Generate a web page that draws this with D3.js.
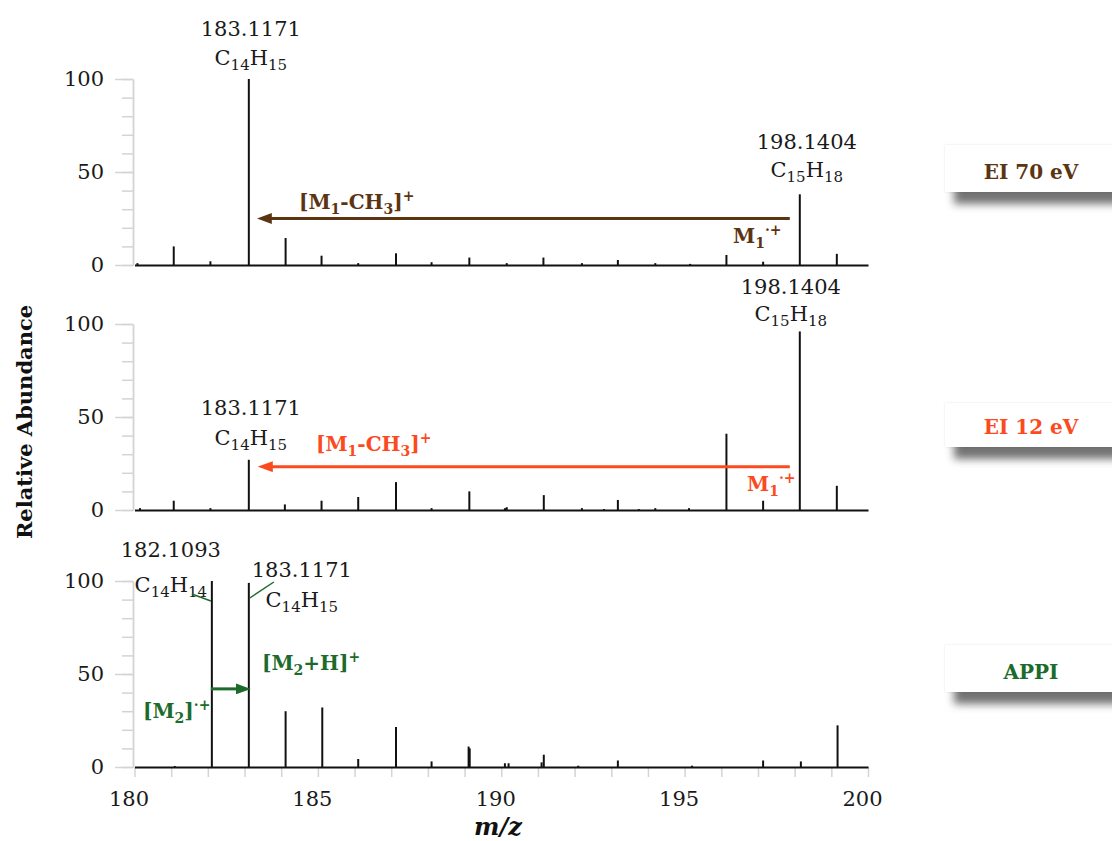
<!DOCTYPE html>
<html><head><meta charset="utf-8">
<script src="https://cdn.jsdelivr.net/npm/d3@7"></script>
<style>
body{margin:0;background:#fff;}
svg{display:block;}
</style></head><body>
<svg id="chart" width="1112" height="841"></svg>
<script>
// ---- axis definitions ----
const mzDomain = [180, 200];
const mzTicks = d3.range(180, 201);
const mzLabelTicks = [180, 185, 190, 195, 200];
const abundanceMinorTicks = d3.range(0, 101, 10);
const abundanceLabelTicks = [0, 50, 100];

// ---- spectra (m/z, relative abundance %) ----
const ei70Mz = [180.08, 181.07, 182.07, 183.1171, 184.12, 185.10, 186.10, 187.13, 188.10, 189.13,
                190.15, 191.15, 192.20, 193.18, 194.20, 195.15, 196.14, 197.14, 198.1404, 199.15];
const ei70Abundance = [1, 10, 2, 100, 14.5, 5, 1, 6.3, 1.5, 4,
                       1, 4, 1, 2.7, 1, 0.6, 5.4, 1.8, 38, 6];

const ei12Mz = [180.15, 181.07, 182.07, 183.1171, 184.10, 185.10, 186.10, 187.13, 188.10, 189.13,
                190.10, 190.15, 191.16, 192.20, 192.80, 193.18, 193.75, 194.20, 195.12, 196.14,
                197.14, 198.1404, 199.15];
const ei12Abundance = [1, 5, 1, 27, 3, 5, 7, 15, 1, 10,
                       1, 1.5, 8, 1, 0.5, 5.4, 0.5, 1, 1, 41,
                       5, 96, 13];

const appiMz = [181.10, 182.1093, 183.1171, 184.12, 185.12, 186.10, 187.13, 188.10, 189.11, 189.14,
                190.10, 190.20, 191.10, 191.16, 192.10, 193.18, 195.20, 197.14, 198.17, 199.17];
const appiAbundance = [0.5, 100, 99, 30, 32, 4.3, 21.5, 3, 11, 10,
                       2, 2, 2.5, 6.6, 0.7, 3.5, 0.7, 3.5, 3, 22.4];

const methodNames = ["EI 70 eV", "EI 12 eV", "APPI"];
const methodColors = ["#5b3412", "#fb4b1e", "#1c6b2c"];

// ---- layout ----
const svg = d3.select("#chart");
const serif = "'DejaVu Serif', serif";
const x = d3.scaleLinear().domain(mzDomain).range([134.5, 868]);
const panelBands = [[79, 265], [324, 510], [581, 767]];
const spectra = [
  d3.zip(ei70Mz, ei70Abundance),
  d3.zip(ei12Mz, ei12Abundance),
  d3.zip(appiMz, appiAbundance)
];
const ys = panelBands.map(([t, b]) => d3.scaleLinear().domain([0, 100]).range([b, t]));

const defs = svg.append("defs");
defs.append("filter").attr("id", "boxShadow")
  .attr("x", "-20%").attr("y", "-60%").attr("width", "140%").attr("height", "220%")
  .append("feGaussianBlur").attr("stdDeviation", 4.5);
const glow = defs.append("filter").attr("id", "boxGlow")
  .attr("x", "-10%").attr("y", "-20%").attr("width", "120%").attr("height", "140%");
glow.append("feDropShadow").attr("dx", 0).attr("dy", 0).attr("stdDeviation", 1.2)
  .attr("flood-color", "#000").attr("flood-opacity", 0.1);

methodColors.forEach((c, i) => {
  defs.append("marker").attr("id", "head" + i)
    .attr("viewBox", "0 0 15 11").attr("refX", 15).attr("refY", 5.5)
    .attr("markerWidth", 15).attr("markerHeight", 11)
    .attr("markerUnits", "userSpaceOnUse").attr("orient", "auto")
    .append("path").attr("d", "M0,0 L15,5.5 L0,11 Z").attr("fill", c);
});

// draws a text run with subscripts / superscripts: parts = [[text, kind]], kind 0 normal, 1 sub, 2 sup
function richText(g, px, py, parts, opts) {
  const o = Object.assign({size: 21, subSize: 15, subShift: 5, supShift: 9, weight: "normal",
                           fill: "#1a1a1a", anchor: "middle"}, opts || {});
  const t = g.append("text").attr("x", px).attr("y", py)
    .attr("font-family", serif).attr("font-size", o.size).attr("font-weight", o.weight)
    .attr("fill", o.fill).attr("text-anchor", o.anchor);
  let shift = 0;
  parts.forEach(([s, kind]) => {
    const target = kind === 1 ? o.subShift : kind === 2 ? -o.supShift : 0;
    t.append("tspan").attr("dy", target - shift)
      .attr("font-size", kind ? o.subSize : o.size).text(s);
    shift = target;
  });
  return t;
}

spectra.forEach((peaks, i) => {
  const y = ys[i];
  const g = svg.append("g");

  // abundance axis: minor ticks, then labelled major ticks
  const minor = g.append("g").attr("transform", "translate(133,0)")
    .call(d3.axisLeft(y).tickValues(abundanceMinorTicks).tickSize(11).tickSizeOuter(0).tickFormat(""));
  const major = g.append("g").attr("transform", "translate(133,0)")
    .call(d3.axisLeft(y).tickValues(abundanceLabelTicks).tickSize(18).tickSizeOuter(0).tickPadding(11));
  [minor, major].forEach(a => {
    a.selectAll("path.domain").attr("stroke", "#d4d4d4").attr("stroke-width", 1.5);
    a.selectAll(".tick line").attr("stroke", "#d4d4d4").attr("stroke-width", 1.5);
  });
  major.selectAll(".tick text").attr("font-family", serif).attr("font-size", 21).attr("fill", "#1a1a1a");

  // m/z baseline (ticks and labels only on the lowest panel)
  const xa = g.append("g").attr("transform", `translate(0,${y(0)})`);
  if (i === 2) {
    xa.call(d3.axisBottom(x).tickValues(mzTicks).tickSize(10).tickSizeOuter(0).tickPadding(14)
      .tickFormat(d => mzLabelTicks.includes(d) ? d : ""));
    xa.selectAll(".tick line").attr("stroke", "#d4d4d4").attr("stroke-width", 1.5);
    xa.selectAll(".tick text").attr("font-family", serif).attr("font-size", 21)
      .attr("fill", "#1a1a1a").attr("x", -6);
  } else {
    xa.call(d3.axisBottom(x).tickValues([]).tickSizeOuter(0));
  }
  xa.select("path.domain").attr("stroke", "#111").attr("stroke-width", 2.2).raise();

  // spectrum sticks
  g.append("g").selectAll("line").data(peaks).join("line")
    .attr("x1", d => x(d[0])).attr("x2", d => x(d[0]))
    .attr("y1", y(0)).attr("y2", d => y(d[1]))
    .attr("stroke", "#111").attr("stroke-width", 2);

  // method tag on the right
  const boxTop = [145, 403, 645][i], boxH = [47, 44, 47][i];
  g.append("rect").attr("x", 954).attr("y", boxTop + 12).attr("width", 200).attr("height", boxH)
    .attr("fill", "#5a5a5a").attr("opacity", 0.85).attr("filter", "url(#boxShadow)");
  g.append("rect").attr("x", 945).attr("y", boxTop).attr("width", 200).attr("height", boxH)
    .attr("fill", "#fff").attr("filter", "url(#boxGlow)");
  g.append("text").attr("x", 1031).attr("y", boxTop + boxH - 13)
    .attr("text-anchor", "middle").attr("font-family", serif).attr("font-weight", "bold")
    .attr("font-size", 20).attr("fill", methodColors[i]).text(methodNames[i]);
});

// ---- peak annotations ----
const ann = svg.append("g");
const peakTop = (i, mz) => ys[i](spectra[i].find(p => p[0] === mz)[1]);

// EI 70 eV
richText(ann, x(183.1171) + 2, ys[0](100) - 43, [["183.1171", 0]]);
richText(ann, x(183.1171) + 2, ys[0](100) - 14, [["C", 0], ["14", 1], ["H", 0], ["15", 1]]);
richText(ann, x(198.1404) + 7, peakTop(0, 198.1404) - 45, [["198.1404", 0]]);
richText(ann, x(198.1404) + 7, peakTop(0, 198.1404) - 17, [["C", 0], ["15", 1], ["H", 0], ["18", 1]]);
// EI 12 eV
richText(ann, x(183.1171) + 2, peakTop(1, 183.1171) - 45, [["183.1171", 0]]);
richText(ann, x(183.1171) + 2, peakTop(1, 183.1171) - 15, [["C", 0], ["14", 1], ["H", 0], ["15", 1]]);
richText(ann, x(198.1404) - 9, peakTop(1, 198.1404) - 37, [["198.1404", 0]]);
richText(ann, x(198.1404) - 9, peakTop(1, 198.1404) - 10, [["C", 0], ["15", 1], ["H", 0], ["18", 1]]);
// APPI
richText(ann, x(182.1093) - 41, ys[2](100) - 24, [["182.1093", 0]]);
richText(ann, x(182.1093) - 41, ys[2](100) + 11, [["C", 0], ["14", 1], ["H", 0], ["14", 1]]);
richText(ann, x(183.1171) + 53, ys[2](100) - 4, [["183.1171", 0]]);
richText(ann, x(183.1171) + 53, ys[2](100) + 26, [["C", 0], ["14", 1], ["H", 0], ["15", 1]]);
ann.append("line").attr("x1", x(182.1093) - 20).attr("y1", ys[2](100) + 13)
  .attr("x2", x(182.1093) - 1).attr("y2", ys[2](100) + 20)
  .attr("stroke", methodColors[2]).attr("stroke-width", 1.5);
ann.append("line").attr("x1", x(183.1171) + 1).attr("y1", ys[2](100) + 17)
  .attr("x2", x(183.1171) + 25).attr("y2", ys[2](100) + 1)
  .attr("stroke", methodColors[2]).attr("stroke-width", 1.5);

// ---- fragmentation / protonation arrows ----
function arrow(i, fromMz, fromOff, toMz, toOff, yPix) {
  const x0 = x(fromMz) + fromOff, tip = x(toMz) + toOff;
  ann.append("line").attr("x1", x0).attr("y1", yPix)
    .attr("x2", tip).attr("y2", yPix)
    .attr("stroke", methodColors[i]).attr("stroke-width", 3)
    .attr("stroke-dasharray", `${Math.abs(tip - x0) - 10},100`)
    .attr("marker-end", `url(#head${i})`);
}
arrow(0, 198.1404, -10, 183.1171, 8, ys[0](25));
arrow(1, 198.1404, -10, 183.1171, 9, ys[1](23.3));
arrow(2, 182.1093, -1, 183.1171, 2, ys[2](42));

const boldOpts = (i, anchor) => ({size: 20, subSize: 14, subShift: 5, supShift: 8, weight: "bold",
                                  fill: methodColors[i], anchor: anchor || "start"});
richText(ann, 299, 209, [["[M", 0], ["1", 1], ["-CH", 0], ["3", 1], ["]", 0], ["+", 2]], boldOpts(0));
richText(ann, 733, 243, [["M", 0], ["1", 1], ["·+", 2]], boldOpts(0));
richText(ann, 316, 451, [["[M", 0], ["1", 1], ["-CH", 0], ["3", 1], ["]", 0], ["+", 2]], boldOpts(1));
richText(ann, 747, 491, [["M", 0], ["1", 1], ["·+", 2]], boldOpts(1));
richText(ann, 262, 670, [["[M", 0], ["2", 1], ["+H]", 0], ["+", 2]], boldOpts(2));
richText(ann, 143, 718, [["[M", 0], ["2", 1], ["]", 0], ["·+", 2]], boldOpts(2));

// ---- axis titles ----
svg.append("text").attr("transform", "translate(32,422) rotate(-90)")
  .attr("text-anchor", "middle").attr("font-family", serif).attr("font-weight", "bold")
  .attr("font-size", 21).attr("fill", "#111").text("Relative Abundance");
svg.append("text").attr("x", 498).attr("y", 835)
  .attr("text-anchor", "middle").attr("font-family", serif).attr("font-weight", "bold")
  .attr("font-style", "italic").attr("font-size", 24).attr("fill", "#111").text("m/z");
</script>
</body></html>
